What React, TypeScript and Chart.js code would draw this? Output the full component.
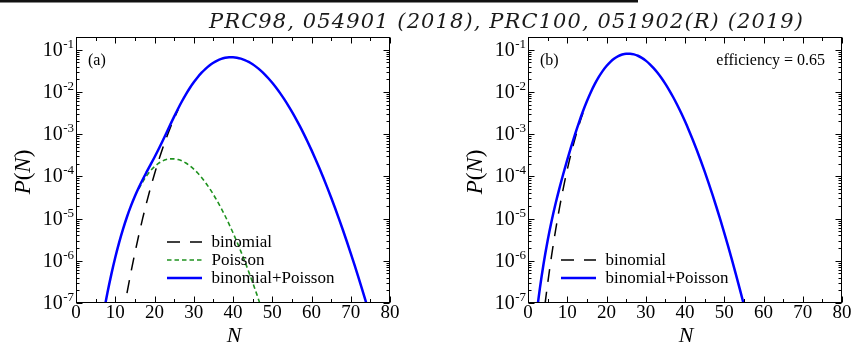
import React, { useEffect, useRef } from "react";
import { Chart, registerables } from "chart.js";

Chart.register(...registerables);

// ---------------- data ----------------
// panel (a)
const nSumA = [6, 7, 8, 9, 10, 11, 12, 13, 14, 15, 16, 17, 18, 19, 20, 21, 22, 23, 24, 25, 26, 27, 28, 29, 30, 31, 32, 33, 34, 35, 36, 37, 38, 39, 40, 41, 42, 43, 44, 45, 46, 47, 48, 49, 50, 51, 52, 53, 54, 55, 56, 57, 58, 59, 60, 61, 62, 63, 64, 65, 66, 67, 68, 69, 70, 71, 72, 73, 74, 75, 76];
const pSumA = [1.54e-8, 5.5e-8, 1.72e-7, 4.77e-7, 1.197e-6, 2.73e-6, 5.7e-6, 1.104e-5, 1.993e-5, 3.385e-5, 5.46e-5, 8.45e-5, 1.273e-4, 1.897e-4, 2.838e-4, 4.316e-4, 6.689e-4, 1.052e-3, 1.661e-3, 2.601e-3, 4.0e-3, 6.006e-3, 8.752e-3, 1.2354e-2, 1.6884e-2, 2.2308e-2, 2.851e-2, 3.53e-2, 4.229e-2, 4.912e-2, 5.532e-2, 6.044e-2, 6.415e-2, 6.616e-2, 6.636e-2, 6.474e-2, 6.149e-2, 5.689e-2, 5.128e-2, 4.507e-2, 3.866e-2, 3.235e-2, 2.643e-2, 2.109e-2, 1.6457e-2, 1.2548e-2, 9.359e-3, 6.827e-3, 4.874e-3, 3.407e-3, 2.332e-3, 1.5638e-3, 1.0275e-3, 6.617e-4, 4.179e-4, 2.588e-4, 1.572e-4, 9.374e-5, 5.484e-5, 3.149e-5, 1.777e-5, 9.84e-6, 5.354e-6, 2.862e-6, 1.504e-6, 7.768e-7, 3.943e-7, 1.968e-7, 9.665e-8, 4.667e-8, 2.218e-8];

const nBinA = [11, 12, 13, 14, 15, 16, 17, 18, 19, 20, 21, 22, 23, 24, 25, 26];
const pBinA = [1.451e-8, 5.228e-8, 1.733e-7, 5.324e-7, 1.522e-6, 4.069e-6, 1.0214e-5, 2.415e-5, 5.394e-5, 1.1418e-4, 2.296e-4, 4.394e-4, 8.023e-4, 1.4004e-3, 2.34e-3, 3.75e-3];

const nPoiA = [16, 17, 18, 19, 20, 21, 22, 23, 24, 25, 26, 27, 28, 29, 30, 31, 32, 33, 34, 35, 36, 37, 38, 39, 40, 41, 42, 43, 44, 45, 46, 47, 48, 49];
const pPoiA = [5.053e-5, 7.431e-5, 1.0321e-4, 1.3583e-4, 1.6976e-4, 2.0209e-4, 2.2971e-4, 2.4966e-4, 2.6e-4, 2.6e-4, 2.5e-4, 2.315e-4, 2.067e-4, 1.7812e-4, 1.4845e-4, 1.1975e-4, 9.356e-5, 7.088e-5, 5.212e-5, 3.723e-5, 2.585e-5, 1.7471e-5, 1.1493e-5, 7.367e-6, 4.604e-6, 2.808e-6, 1.671e-6, 9.718e-7, 5.522e-7, 3.067e-7, 1.667e-7, 8.866e-8, 4.617e-8, 2.356e-8];

// panel (b)
const nSumB = [1, 2, 3, 4, 5, 6, 7, 8, 9, 10, 11, 12, 13, 14, 15, 16, 17, 18, 19, 20, 21, 22, 23, 24, 25, 26, 27, 28, 29, 30, 31, 32, 33, 34, 35, 36, 37, 38, 39, 40, 41, 42, 43, 44, 45, 46, 47, 48, 49, 50, 51, 52, 53, 54, 55, 56, 57];
const pSumB = [4.66e-9, 3.865e-8, 2.124e-7, 8.84e-7, 2.991e-6, 8.637e-6, 2.212e-5, 5.2e-5, 1.1521e-4, 2.451e-4, 5.038e-4, 1.0007e-3, 1.909e-3, 3.475e-3, 6.009e-3, 9.842e-3, 1.5259e-2, 2.2396e-2, 3.114e-2, 4.112e-2, 5.163e-2, 6.176e-2, 7.055e-2, 7.697e-2, 8.043e-2, 8.066e-2, 7.767e-2, 7.193e-2, 6.415e-2, 5.514e-2, 4.575e-2, 3.667e-2, 2.842e-2, 2.134e-2, 1.551e-2, 1.0931e-2, 7.477e-3, 4.965e-3, 3.203e-3, 2.01e-3, 1.2268e-3, 7.292e-4, 4.219e-4, 2.379e-4, 1.3092e-4, 7.024e-5, 3.677e-5, 1.8797e-5, 9.39e-6, 4.582e-6, 2.186e-6, 1.02e-6, 4.656e-7, 2.08e-7, 9.096e-8, 3.896e-8, 1.634e-8];

const nBinB = [3, 4, 5, 6, 7, 8, 9, 10, 11, 12, 13, 14];
const pBinB = [7.51e-9, 5.183e-8, 2.853e-7, 1.3054e-6, 5.11e-6, 1.7451e-5, 5.284e-5, 1.4367e-4, 3.54e-4, 7.978e-4, 1.6555e-3, 3.181e-3];

// axes / ticks
const xMin = 0;
const xMax = 80;
const yMin = 1e-7;
const yMax = 0.2;
const xMajorTicks = [0, 10, 20, 30, 40, 50, 60, 70, 80];
const xMinorTicks = [5, 15, 25, 35, 45, 55, 65, 75];
const yExponents = [-7, -6, -5, -4, -3, -2, -1];
const yMantissas = [1, 2, 3, 4, 5, 6, 7, 8, 9];

const titleText = "PRC98, 054901 (2018), PRC100, 051902(R) (2019)";
const labelBin = "binomial";
const labelPoi = "Poisson";
const labelSum = "binomial+Poisson";

// ---------------- styling ----------------
const W = 855;
const H = 347;
const SERIF = "'Liberation Serif', 'Times New Roman', serif";
const BLUE = "#0000ff";
const GREEN = "#1f921f";
const BLACK = "#000000";
const DASH_BIN = [13, 10];
const DASH_POI = [4.5, 3];

type LegendItem = { label: string; color: string; width: number; dash: number[] };
type Panel = {
  padding: { left: number; top: number; right: number; bottom: number };
  tag: string;
  note?: string;
  legend: LegendItem[];
  legendRows: number[];
  legendDx: number;
  drawTitle: boolean;
  datasets: any[];
};

const pts = (n: number[], p: number[]) => n.map((x, i) => ({ x, y: p[i] }));

const lineDs = (label: string, n: number[], p: number[], color: string, width: number, dash: number[], order: number) => ({
  label,
  data: pts(n, p),
  borderColor: color,
  backgroundColor: color,
  borderWidth: width,
  borderDash: dash,
  pointRadius: 0,
  fill: false,
  cubicInterpolationMode: "monotone",
  order,
});

const panelA: Panel = {
  padding: { left: 76, top: 37, right: W - 390, bottom: H - 303 },
  tag: "(a)",
  legend: [
    { label: labelBin, color: BLACK, width: 1.5, dash: DASH_BIN },
    { label: labelPoi, color: GREEN, width: 1.6, dash: DASH_POI },
    { label: labelSum, color: BLUE, width: 2.5, dash: [] },
  ],
  legendRows: [242, 260, 278],
  legendDx: 91,
  drawTitle: true,
  datasets: [
    lineDs(labelSum, nSumA, pSumA, BLUE, 2.5, [], 0),
    lineDs(labelPoi, nPoiA, pPoiA, GREEN, 1.6, DASH_POI, 1),
    lineDs(labelBin, nBinA, pBinA, BLACK, 1.5, DASH_BIN, 2),
  ],
};

const panelB: Panel = {
  padding: { left: 528, top: 37, right: W - 842, bottom: H - 303 },
  tag: "(b)",
  note: "efficiency = 0.65",
  legend: [
    { label: labelBin, color: BLACK, width: 1.5, dash: DASH_BIN },
    { label: labelSum, color: BLUE, width: 2.5, dash: [] },
  ],
  legendRows: [260, 278],
  legendDx: 33,
  drawTitle: false,
  datasets: [
    lineDs(labelSum, nSumB, pSumB, BLUE, 2.5, [], 0),
    lineDs(labelBin, nBinB, pBinB, BLACK, 1.5, DASH_BIN, 2),
  ],
};

function decorPlugin(spec: Panel) {
  return {
    id: "decor" + spec.tag.replace(/[()]/g, ""),
    afterDraw(chart: any) {
      const ctx: CanvasRenderingContext2D = chart.ctx;
      const { left, right, top, bottom } = chart.chartArea;
      const xs = chart.scales.x;
      const ys = chart.scales.y;
      ctx.save();

      // frame
      ctx.strokeStyle = "#000";
      ctx.lineWidth = 1;
      const L = Math.round(left) + 0.5;
      const R = Math.round(right) - 0.5;
      const T = Math.round(top) + 0.5;
      const B = Math.round(bottom) - 0.5;
      ctx.strokeRect(L, T, R - L, B - T);

      // inward ticks
      ctx.beginPath();
      const xt = (v: number, len: number) => {
        const px = Math.round(xs.getPixelForValue(v)) + 0.5;
        ctx.moveTo(px, B);
        ctx.lineTo(px, B - len);
        ctx.moveTo(px, T);
        ctx.lineTo(px, T + len);
      };
      xMajorTicks.forEach((v) => xt(v, 6));
      xMinorTicks.forEach((v) => xt(v, 3.5));
      yExponents.forEach((e) => {
        yMantissas.forEach((m) => {
          const v = m * Math.pow(10, e);
          if (v >= yMax * 0.999) return;
          const py = Math.round(ys.getPixelForValue(v)) + 0.5;
          const len = m === 1 ? 6 : 3;
          ctx.moveTo(L, py);
          ctx.lineTo(L + len, py);
          ctx.moveTo(R, py);
          ctx.lineTo(R - len, py);
        });
      });
      ctx.stroke();

      ctx.fillStyle = "#000";
      // x tick labels
      ctx.font = `19px ${SERIF}`;
      ctx.textAlign = "center";
      ctx.textBaseline = "alphabetic";
      xMajorTicks.forEach((v) => {
        ctx.fillText(String(v), xs.getPixelForValue(v), bottom + 14.5);
      });

      // y tick labels 10^e
      yExponents.forEach((e) => {
        const py = ys.getPixelForValue(Math.pow(10, e));
        const ex = String(e);
        ctx.font = `13px ${SERIF}`;
        ctx.textAlign = "right";
        const ew = ctx.measureText(ex).width;
        ctx.fillText(ex, left - 2, py - 2);
        ctx.font = `20px ${SERIF}`;
        ctx.fillText("10", left - 2 - ew - 0.5, py + 6);
      });

      // x axis title
      ctx.font = `italic 22px ${SERIF}`;
      ctx.textAlign = "center";
      ctx.fillText("N", (left + right) / 2 + 1, 341.5);

      // y axis title P(N)
      ctx.save();
      ctx.translate(left - 46, (top + bottom) / 2 + 2);
      ctx.rotate(-Math.PI / 2);
      const parts: [string, boolean][] = [["P", true], ["(", false], ["N", true], [")", false]];
      let total = 0;
      const widths = parts.map(([t, it]) => {
        ctx.font = `${it ? "italic " : ""}23px ${SERIF}`;
        const w = ctx.measureText(t).width;
        total += w;
        return w;
      });
      let cx = -total / 2;
      ctx.textAlign = "left";
      parts.forEach(([t, it], i) => {
        ctx.font = `${it ? "italic " : ""}23px ${SERIF}`;
        ctx.fillText(t, cx, 0);
        cx += widths[i];
      });
      ctx.restore();

      // panel tag and note
      ctx.font = `16px ${SERIF}`;
      ctx.textAlign = "left";
      ctx.fillText(spec.tag, left + 12, 65);
      if (spec.note) {
        ctx.textAlign = "right";
        ctx.fillText(spec.note, right - 17, 65);
      }

      // legend
      const lx = left + spec.legendDx;
      spec.legend.forEach((it, i) => {
        const y = spec.legendRows[i];
        ctx.save();
        ctx.strokeStyle = it.color;
        ctx.lineWidth = it.width;
        ctx.setLineDash(it.dash);
        ctx.beginPath();
        ctx.moveTo(lx, y);
        ctx.lineTo(lx + 35, y);
        ctx.stroke();
        ctx.restore();
        ctx.font = `17px ${SERIF}`;
        ctx.textAlign = "left";
        ctx.fillStyle = "#000";
        ctx.fillText(it.label, lx + 44.5, y + 5);
      });

      // top rule and reference title
      if (spec.drawTitle) {
        ctx.fillStyle = "#111111";
        ctx.fillRect(0, 0, 638, 2.5);
        ctx.font = "italic 21px 'DejaVu Serif', serif";
        ctx.fillStyle = "#1a1a1a";
        ctx.textAlign = "left";
        const chars = Array.from(titleText);
        const cw = chars.map((c) => ctx.measureText(c).width);
        const sum = cw.reduce((a, b) => a + b, 0);
        const startX = 209;
        const endX = 803;
        const extra = (endX - startX - sum) / (chars.length - 1);
        let x = startX;
        chars.forEach((c, i) => {
          ctx.fillText(c, x, 28);
          x += cw[i] + extra;
        });
      }

      ctx.restore();
    },
  };
}

function makeConfig(spec: Panel): any {
  return {
    type: "line",
    data: { datasets: spec.datasets },
    options: {
      responsive: false,
      animation: false,
      devicePixelRatio: 1,
      events: [],
      layout: { padding: spec.padding },
      plugins: { legend: { display: false }, tooltip: { enabled: false }, title: { display: false } },
      scales: {
        x: { type: "linear", min: xMin, max: xMax, display: false },
        y: { type: "logarithmic", min: yMin, max: yMax, display: false },
      },
    },
    plugins: [decorPlugin(spec)],
  };
}

export default function App() {
  const refA = useRef<HTMLCanvasElement>(null);
  const refB = useRef<HTMLCanvasElement>(null);
  useEffect(() => {
    const a = new Chart(refA.current as HTMLCanvasElement, makeConfig(panelA));
    const b = new Chart(refB.current as HTMLCanvasElement, makeConfig(panelB));
    return () => {
      a.destroy();
      b.destroy();
    };
  }, []);
  const cstyle: React.CSSProperties = { position: "absolute", left: 0, top: 0, width: W, height: H };
  return (
    <div style={{ position: "absolute", left: 0, top: 0, width: W, height: H, background: "#fff", overflow: "hidden" }}>
      <canvas ref={refA} width={W} height={H} style={cstyle} />
      <canvas ref={refB} width={W} height={H} style={cstyle} />
    </div>
  );
}
